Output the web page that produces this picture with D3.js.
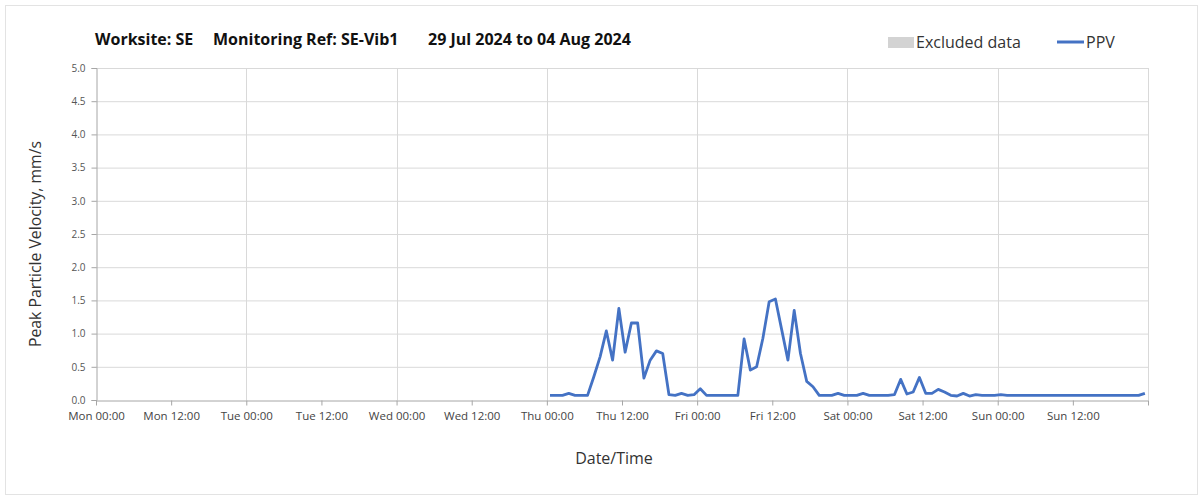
<!DOCTYPE html>
<html><head><meta charset="utf-8">
<script src="https://cdn.jsdelivr.net/npm/d3@7"></script>
<style>
body{margin:0;background:#fff;}
text{font-family:"Open Sans",Lato,sans-serif;}
</style></head>
<body><svg id="c" width="1203" height="495"></svg>
<script>
// ---- data ----
const titleParts = ["Worksite: SE", "Monitoring Ref: SE-Vib1", "29 Jul 2024 to 04 Aug 2024"];
const yTicks = [0, 0.5, 1, 1.5, 2, 2.5, 3, 3.5, 4, 4.5, 5];
const xTickHours = [0,12,24,36,48,60,72,84,96,108,120,132,144,156,168];
const xTickLabels = ["Mon 00:00","Mon 12:00","Tue 00:00","Tue 12:00","Wed 00:00","Wed 12:00","Thu 00:00","Thu 12:00","Fri 00:00","Fri 12:00","Sat 00:00","Sat 12:00","Sun 00:00","Sun 12:00",""];
const dataStartHour = 72.5; // Thu 00:30, hourly samples
const ppv = [
 // Thu
 0.07,0.07,0.07,0.10,0.07,0.07,0.07,0.35,0.65,1.04,0.60,1.38,0.72,1.16,1.16,0.33,0.60,0.74,0.70,0.08,0.07,0.10,0.07,0.08,
 // Fri
 0.17,0.07,0.07,0.07,0.07,0.07,0.07,0.92,0.45,0.50,0.93,1.48,1.52,1.06,0.60,1.35,0.70,0.28,0.20,0.07,0.07,0.07,0.10,0.07,
 // Sat
 0.07,0.07,0.10,0.07,0.07,0.07,0.07,0.08,0.31,0.09,0.12,0.34,0.10,0.10,0.16,0.12,0.07,0.06,0.10,0.06,0.08,0.07,0.07,0.07,
 // Sun
 0.08,0.07,0.07,0.07,0.07,0.07,0.07,0.07,0.07,0.07,0.07,0.07,0.07,0.07,0.07,0.07,0.07,0.07,0.07,0.07,0.07,0.07,0.07,0.10
];
const legendItems = ["Excluded data", "PPV"];

// ---- layout ----
const svg = d3.select("#c");
const L = 96, R = 1148, T = 68, B = 400;
const x = d3.scaleLinear().domain([0,168]).range([L,R]);
const y = d3.scaleLinear().domain([0,5]).range([B,T]);

svg.append("rect").attr("x",5.5).attr("y",5.5).attr("width",1192).attr("height",489)
  .attr("fill","none").attr("stroke","#e3e3e3");

// gridlines
svg.append("g").selectAll("line").data(yTicks.filter(d=>d>0)).join("line")
  .attr("x1",L).attr("x2",R).attr("y1",d=>y(d)+0.5).attr("y2",d=>y(d)+0.5)
  .attr("stroke","#d9d9d9").attr("stroke-width",1);
svg.append("g").selectAll("line").data(xTickHours.filter(d=>d%24===0 && d>0)).join("line")
  .attr("x1",d=>Math.round(x(d))+0.5).attr("x2",d=>Math.round(x(d))+0.5).attr("y1",T).attr("y2",B)
  .attr("stroke","#d9d9d9").attr("stroke-width",1);

// axes
const yAxis = d3.axisLeft(y).tickValues(yTicks).tickFormat(d3.format(".1f")).tickSize(5).tickPadding(6);
const gy = svg.append("g").attr("transform",`translate(${L+0.5},0)`).call(yAxis);
gy.select(".domain").attr("stroke","#a6a6a6");
gy.selectAll(".tick line").attr("stroke","#a6a6a6");
gy.selectAll(".tick text").attr("fill","#555").style("font-size","10px").style("font-family","'Open Sans', sans-serif");

const xAxis = d3.axisBottom(x).tickValues(xTickHours).tickFormat((d,i)=>xTickLabels[i]).tickSize(5).tickSizeOuter(0).tickPadding(6);
const gx = svg.append("g").attr("transform",`translate(0,${B+0.5})`).call(xAxis);
gx.select(".domain").attr("stroke","#a6a6a6");
gx.selectAll(".tick line").attr("stroke","#a6a6a6");
gx.selectAll(".tick text").attr("fill","#444").style("font-size","11.5px").style("font-family","'Open Sans', sans-serif");

// line
const line = d3.line().x((d,i)=>x(dataStartHour+i)).y(d=>y(d));
svg.append("path").datum(ppv).attr("d",line).attr("fill","none")
  .attr("stroke","#4472C4").attr("stroke-width",2.8).attr("stroke-linejoin","round");

// title
const titleX = [95, 213, 428];
svg.append("g").selectAll("text").data(titleParts).join("text")
  .attr("x",(d,i)=>titleX[i]).attr("y",45).text(d=>d)
  .style("font-size","16px").style("font-weight","bold").attr("fill","#111");

// legend
svg.append("rect").attr("x",888).attr("y",37).attr("width",26).attr("height",11).attr("fill","#d3d3d3");
svg.append("text").attr("x",916).attr("y",48).text(legendItems[0]).style("font-size","16px").attr("fill","#333");
svg.append("line").attr("x1",1057).attr("x2",1084).attr("y1",42).attr("y2",42).attr("stroke","#4472C4").attr("stroke-width",3);
svg.append("text").attr("x",1086).attr("y",48).text(legendItems[1]).style("font-size","16px").attr("fill","#333");

// axis titles
svg.append("text").attr("transform","translate(41,244) rotate(-90)").attr("text-anchor","middle")
  .text("Peak Particle Velocity, mm/s").style("font-size","15.8px").attr("fill","#333");
svg.append("text").attr("x",614).attr("y",464).attr("text-anchor","middle")
  .text("Date/Time").style("font-size","16px").attr("fill","#333");
</script></body></html>
